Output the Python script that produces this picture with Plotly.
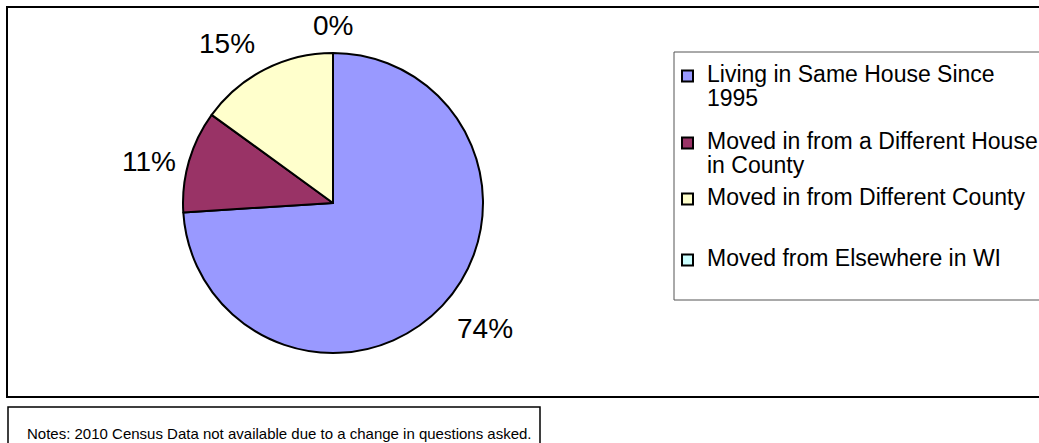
import math
import plotly.graph_objects as go

W, H = 1039, 443

# ---- data ----
categories = [
    "Living in Same House Since\n1995",
    "Moved in from a Different House\nin County",
    "Moved in from Different County",
    "Moved from Elsewhere in WI",
]
percent_values = [74, 11, 15, 0]
slice_colors = ["#9999FF", "#993366", "#FFFFCC", "#CCFFFF"]
notes_text = "Notes: 2010 Census Data not available due to a change in questions asked."

FONT = "Liberation Sans, Arial, sans-serif"

def px(x):
    return x / W

def py(y):
    return 1 - y / H

# pie geometry (pixels)
cx, cy, r = 333, 203, 150

fig = go.Figure()
fig.add_trace(go.Pie(
    labels=[c.replace("\n", " ") for c in categories],
    values=percent_values,
    sort=False,
    direction="clockwise",
    rotation=0,
    marker=dict(colors=slice_colors, line=dict(color="black", width=2)),
    textinfo="none",
    domain=dict(x=[px(cx - r), px(cx + r)], y=[py(cy + r), py(cy - r)]),
    showlegend=False,
    hoverinfo="label+percent",
))

annotations = []

# percent labels placed outside each slice at its mid-angle (clockwise from top)
total = sum(percent_values)
cum = 0.0
for v in percent_values:
    a0 = cum / total * 2 * math.pi
    cum += v
    a1 = cum / total * 2 * math.pi
    mid = (a0 + a1) / 2
    ux, uy = math.sin(mid), -math.cos(mid)
    xanchor = "left" if ux > 0.3 else ("right" if ux < -0.3 else "center")
    sy = 1 if uy > 0.3 else (-1 if uy < -0.3 else 0)
    gap = 18 if sy != 0 else 11
    ax = cx + (r + gap) * ux
    ay = cy + (r + gap) * uy + sy * 10
    if sy == 0:
        ay += 3
    annotations.append(dict(
        xref="paper", yref="paper", x=px(ax), y=py(ay),
        xanchor=xanchor, yanchor="middle", showarrow=False,
        text=f"{round(v / total * 100)}%",
        font=dict(family=FONT, size=28, color="black"),
    ))

shapes = []
# outer chart border
shapes.append(dict(type="rect", xref="paper", yref="paper",
                   x0=px(7), x1=px(1050), y0=py(397), y1=py(7),
                   line=dict(color="black", width=2), fillcolor="rgba(0,0,0,0)"))
# legend box
shapes.append(dict(type="rect", xref="paper", yref="paper",
                   x0=px(674), x1=px(1050), y0=py(300), y1=py(52),
                   line=dict(color="#555555", width=1), fillcolor="rgba(0,0,0,0)"))
# notes box
shapes.append(dict(type="rect", xref="paper", yref="paper",
                   x0=px(8), x1=px(540), y0=py(460), y1=py(407),
                   line=dict(color="black", width=1.5), fillcolor="rgba(0,0,0,0)"))

# custom legend
item_first_line_y = [74, 141, 197, 258]
line_gap = 24
marker_x0, marker_size = 682, 11
text_x = 705
for i, (lab, col) in enumerate(zip(categories, slice_colors)):
    y0 = item_first_line_y[i]
    shapes.append(dict(type="rect", xref="paper", yref="paper",
                       x0=px(marker_x0), x1=px(marker_x0 + marker_size),
                       y0=py(y0 + 2 + marker_size / 2), y1=py(y0 + 2 - marker_size / 2),
                       line=dict(color="black", width=2), fillcolor=col))
    for j, line in enumerate(lab.split("\n")):
        annotations.append(dict(
            xref="paper", yref="paper", x=px(text_x), y=py(y0 + j * line_gap),
            xanchor="left", yanchor="middle", showarrow=False,
            text=line, font=dict(family=FONT, size=23, color="black"),
        ))

annotations.append(dict(
    xref="paper", yref="paper", x=px(25), y=py(433),
    xanchor="left", yanchor="middle", showarrow=False,
    text=notes_text, font=dict(family=FONT, size=15, color="black"),
))

fig.update_layout(
    width=W, height=H,
    margin=dict(l=0, r=0, t=0, b=0),
    paper_bgcolor="white", plot_bgcolor="white",
    font=dict(family=FONT),
    shapes=shapes,
    annotations=annotations,
)

fig.write_html("out.html", include_plotlyjs=True, config={"displayModeBar": False})
